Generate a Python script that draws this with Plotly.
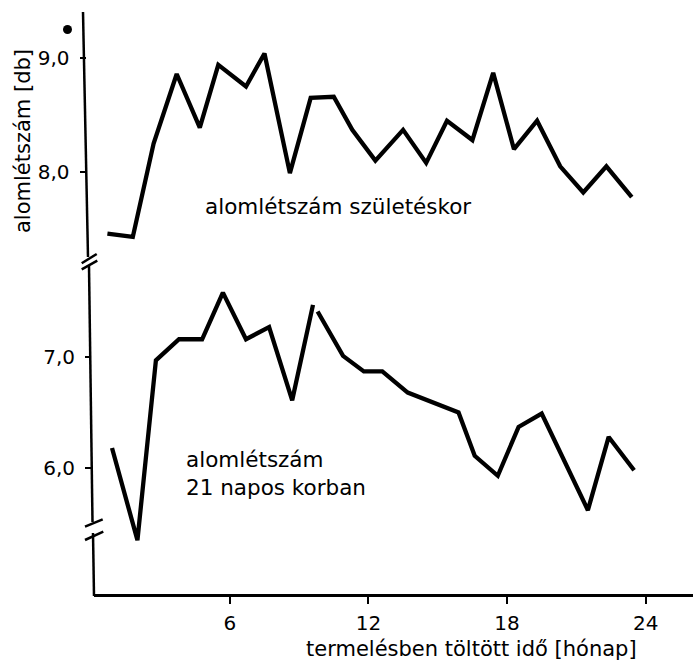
import plotly.graph_objects as go

W, H = 693, 661

# Litter size at birth (upper panel): month in production and litter size
months_birth = [0.7, 1.8, 2.7, 3.7, 4.7, 5.5, 6.7, 7.5, 8.6, 9.5, 10.5, 11.3,
                12.3, 13.5, 14.5, 15.4, 16.5, 17.4, 18.3, 19.3, 20.3, 21.3, 22.3, 23.4]
litter_birth = [7.46, 7.43, 8.25, 8.86, 8.39, 8.94, 8.75, 9.04, 7.99, 8.65, 8.66, 8.37,
                8.10, 8.37, 8.08, 8.45, 8.28, 8.87, 8.20, 8.45, 8.05, 7.82, 8.05, 7.78]

# Litter size at 21 days (lower panel); the pen lifts briefly after the peak near month 9.6
months_21d = [0.9, 2.0, 2.8, 3.8, 4.8, 5.7, 6.7, 7.7, 8.7, 9.6, 9.7, 9.8, 10.9, 11.8,
              12.6, 13.7, 15.9, 16.6, 17.6, 18.5, 19.5, 21.5, 22.4, 23.5]
litter_21d = [6.18, 5.35, 6.97, 7.16, 7.16, 7.58, 7.16, 7.27, 6.61, 7.47, None, 7.41, 7.01, 6.87,
              6.87, 6.68, 6.50, 6.11, 5.93, 6.37, 6.49, 5.62, 6.28, 5.98]

x_ticks = [6, 12, 18, 24]
upper_ticks = [8, 9]
upper_ticktext = ["8,0", "9,0"]
lower_ticks = [6, 7]
lower_ticktext = ["6,0", "7,0"]

FONT = "DejaVu Sans"


def px(x):
    return x / W


def py(y):
    return 1 - y / H


fig = go.Figure()
fig.add_trace(go.Scatter(x=months_birth, y=litter_birth, mode="lines",
                         line=dict(color="black", width=4.3), xaxis="x", yaxis="y",
                         showlegend=False, hoverinfo="skip"))
fig.add_trace(go.Scatter(x=months_21d, y=litter_21d, mode="lines",
                         line=dict(color="black", width=4.3), xaxis="x", yaxis="y2",
                         connectgaps=False, showlegend=False, hoverinfo="skip"))

axis_font = dict(family=FONT, size=20, color="black")

# Broken vertical axis: three slightly slanted segments with double-stroke break marks
axis_segments = [((83, 12), (88, 257)), ((89, 266), (92.5, 522)), ((93, 533), (94, 596))]
break_marks = [((81.7, 263.3), (96.7, 254)), ((81.7, 269.3), (97.3, 260.7)),
               ((85, 526.7), (102.7, 519.3)), ((85, 540), (103.3, 531.7))]
shapes = []
for (x0, y0), (x1, y1) in axis_segments + break_marks:
    shapes.append(dict(type="line", xref="paper", yref="paper",
                       x0=px(x0), y0=py(y0), x1=px(x1), y1=py(y1),
                       line=dict(color="black", width=2.5)))
shapes.append(dict(type="circle", xref="paper", yref="paper",
                   x0=px(63), x1=px(72), y0=py(34), y1=py(25),
                   fillcolor="black", line=dict(color="black", width=0)))

annotations = [
    dict(text="alomlétszám születéskor", x=px(338), y=py(207), xref="paper", yref="paper",
         showarrow=False, font=dict(family=FONT, size=21.5, color="black"),
         xanchor="center", yanchor="middle"),
    dict(text="alomlétszám<br>21 napos korban", x=px(184), y=py(473), xref="paper", yref="paper",
         showarrow=False, align="left", font=dict(family=FONT, size=21.5, color="black"),
         xanchor="left", yanchor="middle"),
    dict(text="termelésben töltött idő [hónap]", x=px(471), y=py(649), xref="paper", yref="paper",
         showarrow=False, font=dict(family=FONT, size=21, color="black"),
         xanchor="center", yanchor="middle"),
    dict(text="alomlétszám [db]", x=px(23), y=py(141), xref="paper", yref="paper",
         showarrow=False, textangle=-90, font=dict(family=FONT, size=21, color="black"),
         xanchor="center", yanchor="middle"),
]

fig.update_layout(
    width=W, height=H, margin=dict(l=0, r=0, t=0, b=0),
    paper_bgcolor="white", plot_bgcolor="white",
    shapes=shapes, annotations=annotations,
    xaxis=dict(domain=[px(94), 1], range=[0.12, 26.05], anchor="y2",
               showline=True, linecolor="black", linewidth=2.5,
               ticks="outside", ticklen=7, tickwidth=2, tickcolor="black",
               tickvals=x_ticks, ticktext=[str(v) for v in x_ticks],
               tickfont=axis_font, ticklabelstandoff=2,
               showgrid=False, zeroline=False),
    yaxis=dict(domain=[py(256), py(13)], range=[7.263, 9.395], anchor="free",
               position=px(85.5), showline=False,
               ticks="outside", ticklen=6, tickwidth=2, tickcolor="black",
               tickvals=upper_ticks, ticktext=upper_ticktext, tickfont=axis_font,
               ticklabelstandoff=6, showgrid=False, zeroline=False),
    yaxis2=dict(domain=[py(594), py(267)], range=[4.865, 7.811], anchor="free",
                position=px(91), showline=False,
                ticks="outside", ticklen=6, tickwidth=2, tickcolor="black",
                tickvals=lower_ticks, ticktext=lower_ticktext, tickfont=axis_font,
                ticklabelstandoff=6, showgrid=False, zeroline=False),
)

fig.write_html("out.html")
